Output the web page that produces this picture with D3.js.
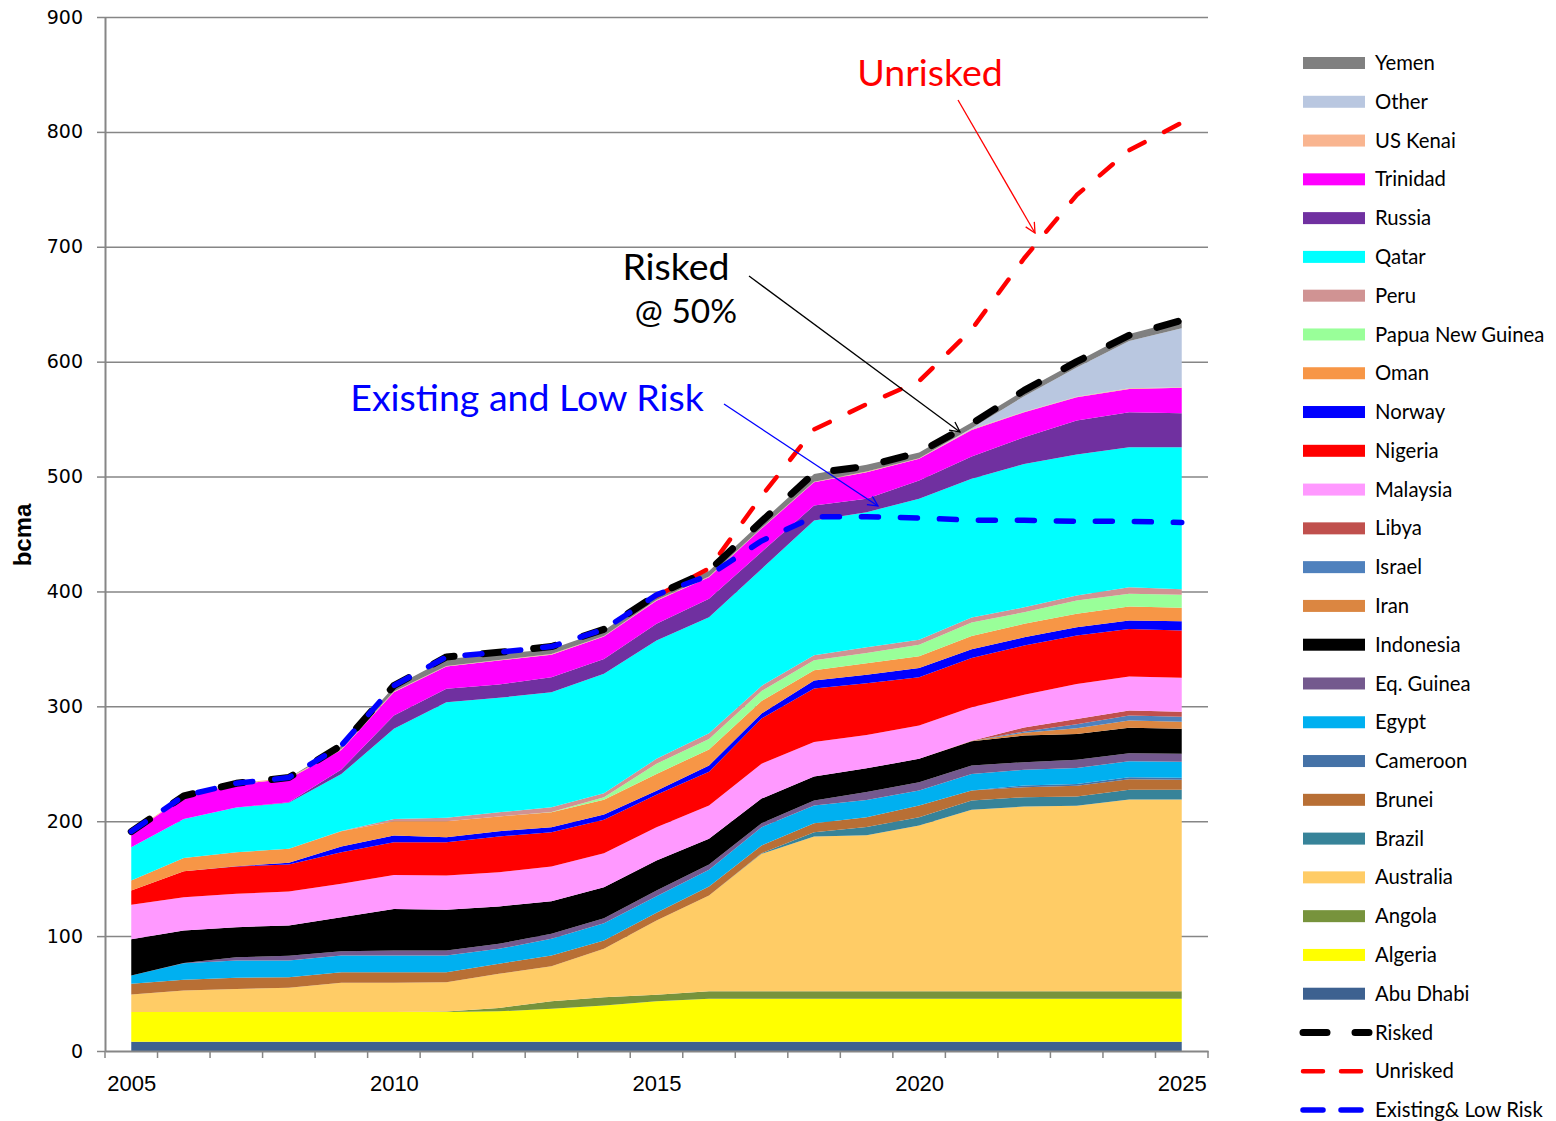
<!DOCTYPE html>
<html>
<head>
<meta charset="utf-8">
<script src="https://cdn.jsdelivr.net/npm/d3@7"></script>
<style>
  body { margin: 0; background: #fff; }
</style>
</head>
<body>
<div id="chart"></div>
<script>
// years on the category axis
const years = d3.range(2005, 2026);

// bcma per country, 2005 .. 2025 (stacked bottom -> top)
const abuDhabi  = [8,8,8,8,8,8,8,8,8,8,8,8,8,8,8,8,8,8,8,8,8];
const algeria   = [26,26,26,26,26,26,26,26.5,28.7,31.6,35.4,37.5,37.5,37.5,37.5,37.5,37.5,37.5,37.5,37.5,37.5];
const angola    = [0,0,0,0,0,0,0.4,2.9,6.7,7.2,5.5,6.5,6.5,6.5,6.5,6.5,6.5,6.5,6.5,6.5,6.5];
const australia = [15.2,18.6,20,21,25.4,25.4,25.5,29.8,30.4,42.1,64.7,83.3,119.6,134.7,135.8,144.3,157.9,160.8,161.4,166.9,166.9];
const brazil    = [0,0,0,0,0,0,0,0,0,0,0,0,0.5,3.7,7.2,7.2,8.1,8.1,8.1,8.4,8.4];
const brunei    = [9.3,9.4,9.7,9.2,9.2,9.2,8.7,8.7,9.3,7.3,6.7,7.9,6.8,7.9,8.5,10.2,8.7,8.7,9.3,9.3,8.7];
const cameroon  = [0,0,0,0,0,0,0,0,0,0,0,0,0,0,0,0,0,1.5,1.7,1.7,1.8];
const egypt     = [7.2,14.4,15.1,14.6,14.5,14.5,14.5,13,14.5,15,14.4,14.5,15.9,15.4,15,13,14.5,13.6,13.9,13.9,13.9];
const eqGuinea  = [0,0.2,2.8,4.2,3.8,4.4,4.4,4.4,4.4,4.4,5,4.6,3.5,4.3,7,7.3,7.3,6.7,7,7,7];
const indonesia = [31.6,28.3,26.2,26.2,29.5,36.2,35.4,32.5,28.4,27,26.1,22.4,21.4,21,20.5,20.3,21.1,23.2,22.6,22.1,21.8];
const iran      = [0,0,0,0,0,0,0,0,0,0,0,0,0,0,0,0,0.2,2.5,5,6.4,6.1];
const israel    = [0,0,0,0,0,0,0,0,0,0,0,0,0,0,0,0,0.1,1,3.5,4.3,4.3];
const libya     = [0,0,0,0,0,0,0,0,0,0,0,0,0,0,0,0,0.2,3.5,4.5,4.3,4.4];
const malaysia  = [29.9,28.9,29,29.6,29.1,29.6,29.8,29.8,30.2,29.6,29,29,30.3,30,29,29,29.2,28.4,30.5,29.6,29.6];
const nigeria   = [12.5,22.7,23.8,23.5,27.5,28.4,29,31.1,29.8,29,28.2,29.3,39.4,46.5,45,42,42.8,42.9,42.1,41.5,41.2];
const norway    = [0,0,0.2,1.5,5,5.8,4.3,4.6,4.4,4.6,3.5,5.5,4.3,7,7.5,8,7.5,7.2,7.2,7.3,8];
const oman      = [8.7,11.5,12.2,12.2,13.3,12.5,14,12.8,13,12.8,14.7,14,11,9,10,10.2,11.6,11.7,11.7,12.2,11.6];
const png       = [0,0,0,0,0,0,0,0,0.2,2.3,8.8,9,8.6,8.7,9,10.1,11.7,10.1,11.6,11,11.5];
const peru      = [0,0,0,0,0.2,2,3,3.7,4.2,3.5,4.3,5,4.5,4.3,5,4.3,4.4,4.3,4.3,5.8,4.7];
const qatar     = [29,34,39,40,49.5,78.4,100.6,99.6,100.1,103.9,103,101,101.8,117.2,117.5,122.7,120.7,124.8,122.7,121.8,123.6];
const russia    = [0,0,0,0.5,4,11.6,11.6,11.6,13,13,14.5,16.1,14.8,13.1,11.6,15.9,19.4,23.2,29.6,30.5,29.6];
const trinidad  = [12,19,20,20.5,17,20.3,19.4,20.9,19.7,19.5,20.2,18.8,20.3,20.2,23.2,18.9,23.2,21.8,20.3,20.3,22.1];
const usKenai   = [0.8,0.8,0.8,0.8,0.8,0.7,0.6,0.5,0.5,0.5,0.5,0.5,0.5,0.5,0.5,0.5,0.5,0.5,0.5,0.5,0.5];
const other     = [0,0,0,0,0,0,0,0,0,0,0,0,0,0,0,0,1,13.5,25.5,41.2,51.3];
const yemen     = [0,0,0,0,3,4,6,5,4.5,4.7,5,5,5.3,6.8,6,5,5,5,5,6,7];

// scenario lines
const risked   = [191,222,233,238,266,318,343,347,352,367,397,418,461,503,509,521,546,575,600,623,636];
const unrisked = [null,null,null,null,null,null,null,null,null,null,396,420,483,541,563,583,628,690,745,784,808];
const existing = [191,222,233,238,266,318,343,347,352,367,397,414,444,465,465,464,462,462,461,461,460];

const countries = [
  ["Abu Dhabi", "#3D6190", abuDhabi],
  ["Algeria", "#FFFF00", algeria],
  ["Angola", "#77933C", angola],
  ["Australia", "#FFCC66", australia],
  ["Brazil", "#378399", brazil],
  ["Brunei", "#B86F35", brunei],
  ["Cameroon", "#4572A7", cameroon],
  ["Egypt", "#00B0F0", egypt],
  ["Eq. Guinea", "#74598E", eqGuinea],
  ["Indonesia", "#000000", indonesia],
  ["Iran", "#DB8641", iran],
  ["Israel", "#4F81BD", israel],
  ["Libya", "#C0504D", libya],
  ["Malaysia", "#FF99FF", malaysia],
  ["Nigeria", "#FF0000", nigeria],
  ["Norway", "#0000FF", norway],
  ["Oman", "#F79646", oman],
  ["Papua New Guinea", "#99FF99", png],
  ["Peru", "#D09393", peru],
  ["Qatar", "#00FFFF", qatar],
  ["Russia", "#7030A0", russia],
  ["Trinidad", "#FF00FF", trinidad],
  ["US Kenai", "#F9B590", usKenai],
  ["Other", "#B9C7E0", other],
  ["Yemen", "#808080", yemen]
];

const lines = [
  ["Risked", "#000000", risked, 7, "22 29"],
  ["Unrisked", "#FF0000", unrisked, 4.5, "17 22"],
  ["Existing& Low Risk", "#0000FF", existing, 5.5, "17 22"]
];

const w = 1556;
const h = 1121;
const padL = 105, padR = 1208, padT = 17, padB = 1051;

const keys = countries.map(c => c[0]);
const table = years.map((yr, i) => {
  const row = { year: yr };
  countries.forEach(c => { row[c[0]] = c[2][i]; });
  return row;
});

const svg = d3.select("#chart")
  .append("svg")
  .attr("width", w)
  .attr("height", h)
  .style("font-family", "Lato, 'Open Sans', sans-serif");

const xScale = d3.scalePoint()
  .domain(years)
  .range([padL, padR])
  .padding(0.5);
const step = xScale.step();

const yScale = d3.scaleLinear()
  .domain([0, 900])
  .range([padB, padT]);

// gridlines
svg.append("g")
  .attr("transform", `translate(${padL},0)`)
  .call(d3.axisLeft(yScale).tickValues(d3.range(100, 901, 100)).tickSize(-(padR - padL)).tickFormat(""))
  .call(g => g.select(".domain").remove())
  .selectAll("line").attr("stroke", "#868686").attr("stroke-width", 1.5);

// stacked areas
const stacked = d3.stack().keys(keys)(table);
const area = d3.area()
  .x(d => xScale(d.data.year))
  .y0(d => yScale(d[0]))
  .y1(d => yScale(d[1]));

svg.append("g")
  .selectAll("path")
  .data(stacked)
  .enter()
  .append("path")
  .attr("d", area)
  .attr("fill", (d, i) => countries[i][1]);

// y axis
const yAxis = svg.append("g")
  .attr("transform", `translate(${padL},0)`)
  .call(d3.axisLeft(yScale).tickValues(d3.range(0, 901, 100)).tickSize(8).tickPadding(14).tickSizeOuter(0));
yAxis.select(".domain").attr("stroke", "#868686").attr("stroke-width", 2);
yAxis.selectAll(".tick line").attr("stroke", "#868686").attr("stroke-width", 1.5);
yAxis.selectAll("text")
  .attr("font-family", "'DejaVu Sans', Verdana, sans-serif")
  .attr("font-size", 19)
  .attr("fill", "#000");

// x axis: labels every 5 years, ticks between categories
const xAxis = svg.append("g")
  .attr("transform", `translate(0,${padB})`)
  .call(d3.axisBottom(xScale).tickValues([2005, 2010, 2015, 2020, 2025]).tickSize(0).tickPadding(24).tickFormat(d3.format("d")));
xAxis.select(".domain").attr("stroke", "#868686").attr("stroke-width", 2);
xAxis.selectAll("text").attr("font-size", 22).attr("fill", "#000");

svg.append("g")
  .selectAll("line")
  .data(d3.range(years.length + 1))
  .enter()
  .append("line")
  .attr("x1", i => padL + i * step)
  .attr("x2", i => padL + i * step)
  .attr("y1", padB)
  .attr("y2", padB + 7)
  .attr("stroke", "#868686")
  .attr("stroke-width", 1.5);

// y label
svg.append("text")
  .attr("transform", "translate(31,535) rotate(-90)")
  .attr("text-anchor", "middle")
  .attr("font-family", "'Liberation Sans Narrow', 'Liberation Sans', Arial, sans-serif")
  .attr("font-weight", "bold")
  .attr("font-size", 24)
  .text("bcma");

// scenario lines (red under black, blue on top)
const line = d3.line()
  .defined(d => d != null)
  .x((d, i) => xScale(years[i]))
  .y(d => yScale(d));

[lines[1], lines[0], lines[2]].forEach(l => {
  svg.append("path")
    .datum(l[2])
    .attr("d", line)
    .attr("fill", "none")
    .attr("stroke", l[1])
    .attr("stroke-width", l[3])
    .attr("stroke-dasharray", l[4])
    .attr("stroke-linecap", "round")
    .attr("stroke-linejoin", "round");
});

// arrow markers
const defs = svg.append("defs");
["#FF0000", "#000000", "#0000FF"].forEach((c, i) => {
  defs.append("marker")
    .attr("id", "arr" + i)
    .attr("viewBox", "0 0 12 12")
    .attr("refX", 11).attr("refY", 6)
    .attr("markerWidth", 12).attr("markerHeight", 12)
    .attr("markerUnits", "userSpaceOnUse")
    .attr("orient", "auto")
    .append("path")
    .attr("d", "M1,1 L11,6 L1,11")
    .attr("fill", "none")
    .attr("stroke", c)
    .attr("stroke-width", 1.3);
});

// annotations
svg.append("text").attr("x", 930).attr("y", 86).attr("text-anchor", "middle")
  .attr("font-size", 37.5).attr("fill", "#FF0000").text("Unrisked");
svg.append("line").attr("x1", 958).attr("y1", 100).attr("x2", 1035).attr("y2", 233)
  .attr("stroke", "#FF0000").attr("stroke-width", 1.3).attr("marker-end", "url(#arr0)");

svg.append("text").attr("x", 676).attr("y", 280).attr("text-anchor", "middle")
  .attr("font-size", 37.5).attr("fill", "#000").text("Risked");
svg.append("text").attr("x", 686).attr("y", 323).attr("text-anchor", "middle")
  .attr("font-size", 33.5).attr("fill", "#000").text("@ 50%");
svg.append("line").attr("x1", 749).attr("y1", 276).attr("x2", 960).attr("y2", 432)
  .attr("stroke", "#000").attr("stroke-width", 1.3).attr("marker-end", "url(#arr1)");

svg.append("text").attr("x", 527).attr("y", 411).attr("text-anchor", "middle")
  .attr("font-size", 37.5).attr("fill", "#0000FF").text("Existing and Low Risk");
svg.append("line").attr("x1", 724).attr("y1", 404).attr("x2", 878).attr("y2", 506)
  .attr("stroke", "#0000FF").attr("stroke-width", 1.3).attr("marker-end", "url(#arr2)");

// legend
const legendItems = countries.slice().reverse().map(c => ({ name: c[0], color: c[1], type: "area" }))
  .concat(lines.map(l => ({ name: l[0], color: l[1], type: "line", width: l[3] })));

const legend = svg.append("g")
  .selectAll("g")
  .data(legendItems)
  .enter()
  .append("g")
  .attr("transform", (d, i) => `translate(1303,${63 + i * 38.78})`);

legend.filter(d => d.type === "area")
  .append("rect")
  .attr("x", 0).attr("y", -6)
  .attr("width", 62).attr("height", 12)
  .attr("fill", d => d.color);

legend.filter(d => d.type === "line")
  .append("line")
  .attr("x1", 0).attr("x2", 66)
  .attr("y1", 0).attr("y2", 0)
  .attr("stroke", d => d.color)
  .attr("stroke-width", d => d.width)
  .attr("stroke-linecap", "round")
  .attr("stroke-dasharray", d => d.name === "Risked" ? "24 28" : "20 18");

legend.append("text")
  .attr("x", 72)
  .attr("y", 0)
  .attr("dy", "0.35em")
  .attr("font-size", 20.3)
  .attr("fill", "#000")
  .text(d => d.name);
</script>
</body>
</html>
